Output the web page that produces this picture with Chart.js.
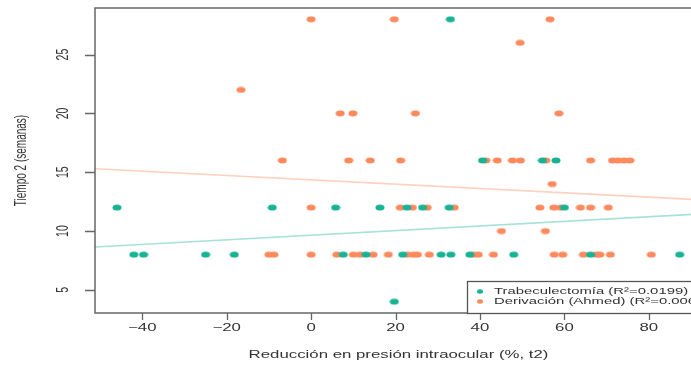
<!DOCTYPE html>
<html>
<head>
<meta charset="utf-8">
<script src="https://cdn.jsdelivr.net/npm/chart.js@4/dist/chart.umd.min.js"></script>
<style>
  html, body { margin: 0; padding: 0; background: #fff; overflow: hidden; }
  canvas { display: block; }
</style>
</head>
<body>
<canvas id="plot" width="720" height="366"></canvas>
<script>
// Tick values of the two axes
const xTickValues = [-40, -20, 0, 20, 40, 60, 80];
const yTickValues = [5, 10, 15, 20, 25];

// Axis ranges
const xRange = [-51.2, 92.6];
const yRange = [3.04, 28.96];

// Trabeculectomía: reduction in IOP (%) and time (weeks)
const trabX = [33, -46, -9.2, 5.8, 16.3, 22.7, 26.4, 32.7, 60, 40.6, 54.8, 58,
               -42, -39.7, -25, -18.2, 7.6, 13, 21.7, 30.8, 33.1, 37.6, 48, 66.2, 87.3, 19.7];
const trabY = [28, 12, 12, 12, 12, 12, 12, 12, 12, 16, 16, 16,
               8, 8, 8, 8, 8, 8, 8, 8, 8, 8, 8, 8, 8, 4];

// Derivación (Ahmed)
const ahmedX = [0, 19.7, 56.6,
                49.5,
                -16.6,
                6.9, 9.9, 24.7, 58.7,
                -6.8, 8.9, 14.0, 21.2, 41.4, 44.1, 47.7, 49.6, 55.6, 66.2, 71.4, 72.7, 74.1, 75.5,
                57.1,
                0, 21.1, 24.0, 27.5, 33.9, 54.2, 57.5, 59.1, 63.8, 66.2, 70.4,
                45.1, 55.5,
                -10, -8.8, 0, 6.1, 10.0, 11.6, 14.7, 18.3, 22.8, 24.2, 25.2, 28.0, 38.4, 39.6,
                43.2, 57.6, 59.6, 64.5, 67.6, 68.4, 70.9, 80.6];
const ahmedY = [28, 28, 28,
                26,
                22,
                20, 20, 20, 20,
                16, 16, 16, 16, 16, 16, 16, 16, 16, 16, 16, 16, 16, 16,
                14,
                12, 12, 12, 12, 12, 12, 12, 12, 12, 12, 12,
                10, 10,
                8, 8, 8, 8, 8, 8, 8, 8, 8, 8, 8, 8, 8, 8,
                8, 8, 8, 8, 8, 8, 8, 8];

// Linear fits: [intercept, slope]
const trabFit = [9.65, 0.0196];
const ahmedFit = [14.36, -0.0184];

// Series names and R² values
const seriesNames = ['Trabeculectomía', 'Derivación (Ahmed)'];
const seriesR2 = ['0.0199', '0.0063'];

const xTitle = 'Reducción en presión intraocular (%, t2)';
const yTitle = 'Tiempo 2 (semanas)';

const TEAL = '#17b394';
const ORANGE = '#fd8a5d';
const TEAL_LINE = 'rgba(23,179,148,0.38)';
const ORANGE_LINE = 'rgba(253,138,93,0.40)';
const SX = 1.6;          // horizontal text stretch
const FONT = "'Liberation Sans', Arial, sans-serif";

function toPoints(xs, ys) { return xs.map((x, i) => ({ x: x, y: ys[i] })); }
function fitLine(fit) {
  return [xRange[0], xRange[1]].map(x => ({ x: x, y: fit[0] + fit[1] * x }));
}
function makeDot(color, w, h) {
  const c = document.createElement('canvas');
  c.width = w + 1; c.height = h + 1;
  const g = c.getContext('2d');
  g.fillStyle = color;
  g.beginPath();
  g.ellipse((w + 1) / 2, (h + 1) / 2, w / 2, h / 2, 0, 0, Math.PI * 2);
  g.fill();
  return c;
}
const tealDot = makeDot(TEAL, 9, 6);
const orangeDot = makeDot(ORANGE, 9, 6);

function stretchedText(ctx, text, x, y, size, opts) {
  opts = opts || {};
  ctx.save();
  ctx.translate(x, y);
  ctx.scale(SX, 1);
  if (opts.rotate) ctx.rotate(-Math.PI / 2);
  ctx.font = size + 'px ' + FONT;
  ctx.fillStyle = opts.color || '#333';
  ctx.textAlign = opts.align || 'center';
  ctx.textBaseline = 'middle';
  ctx.fillText(text, 0, 0);
  ctx.restore();
}

// R-style frame, axes, titles and legend
const baseGraphics = {
  id: 'baseGraphics',
  afterDraw(chart) {
    const ctx = chart.ctx;
    const a = chart.chartArea;
    const xs = chart.scales.x, ys = chart.scales.y;
    ctx.save();
    ctx.strokeStyle = '#666';
    ctx.lineWidth = 1.5;
    ctx.strokeRect(a.left, a.top, a.right - a.left, a.bottom - a.top);

    // x axis ticks
    ctx.beginPath();
    xTickValues.forEach(v => {
      const px = Math.round(xs.getPixelForValue(v)) + 0.5;
      ctx.moveTo(px, a.bottom); ctx.lineTo(px, a.bottom + 7);
    });
    ctx.lineWidth = 1.3;
    ctx.stroke();
    xTickValues.forEach(v => {
      const px = xs.getPixelForValue(v);
      stretchedText(ctx, (v < 0 ? '\u2212' + Math.abs(v) : String(v)), px, a.bottom + 15, 10.5);
    });

    // y axis ticks
    ctx.beginPath();
    yTickValues.forEach(v => {
      const py = Math.round(ys.getPixelForValue(v)) + 0.5;
      ctx.moveTo(a.left, py); ctx.lineTo(a.left - 10, py);
    });
    ctx.stroke();
    yTickValues.forEach(v => {
      const py = ys.getPixelForValue(v);
      stretchedText(ctx, String(v), a.left - 32, py, 10.5, { rotate: true });
    });

    // axis titles
    stretchedText(ctx, xTitle, (a.left + a.right) / 2, 355, 10.5);
    stretchedText(ctx, yTitle, 22, (a.top + a.bottom) / 2, 10, { rotate: true });

    // legend (bottom right)
    const lx = 467, ly = 281;
    ctx.fillStyle = '#fff';
    ctx.fillRect(lx, ly, a.right - lx, a.bottom - ly);
    ctx.strokeStyle = '#555';
    ctx.lineWidth = 1.3;
    ctx.strokeRect(lx + 0.5, ly + 0.5, a.right - lx, a.bottom - ly);
    const colors = [TEAL, ORANGE];
    seriesNames.forEach((name, i) => {
      const yy = 291.5 + i * 10;
      ctx.fillStyle = colors[i];
      ctx.beginPath();
      ctx.ellipse(480, yy, 3, 2.2, 0, 0, Math.PI * 2);
      ctx.fill();
      stretchedText(ctx, name + ' (R\u00b2=' + seriesR2[i] + ')', 494, yy, 9.3, { align: 'left' });
    });
    ctx.restore();
  }
};

new Chart(document.getElementById('plot'), {
  type: 'scatter',
  data: {
    datasets: [
      { label: seriesNames[1], data: toPoints(ahmedX, ahmedY), pointStyle: orangeDot, order: 2 },
      { label: seriesNames[0], data: toPoints(trabX, trabY), pointStyle: tealDot, order: 1 },
      { type: 'line', label: 'fit1', data: fitLine(ahmedFit), borderColor: ORANGE_LINE,
        borderWidth: 1.6, pointRadius: 0, fill: false, order: 3 },
      { type: 'line', label: 'fit0', data: fitLine(trabFit), borderColor: TEAL_LINE,
        borderWidth: 1.6, pointRadius: 0, fill: false, order: 3 }
    ]
  },
  options: {
    responsive: false,
    animation: false,
    devicePixelRatio: 1,
    events: [],
    layout: { padding: { left: 95, top: 8, right: 18, bottom: 53 } },
    scales: {
      x: { type: 'linear', min: xRange[0], max: xRange[1], display: false },
      y: { type: 'linear', min: yRange[0], max: yRange[1], display: false }
    },
    plugins: { legend: { display: false }, tooltip: { enabled: false } }
  },
  plugins: [baseGraphics]
});
</script>
</body>
</html>
